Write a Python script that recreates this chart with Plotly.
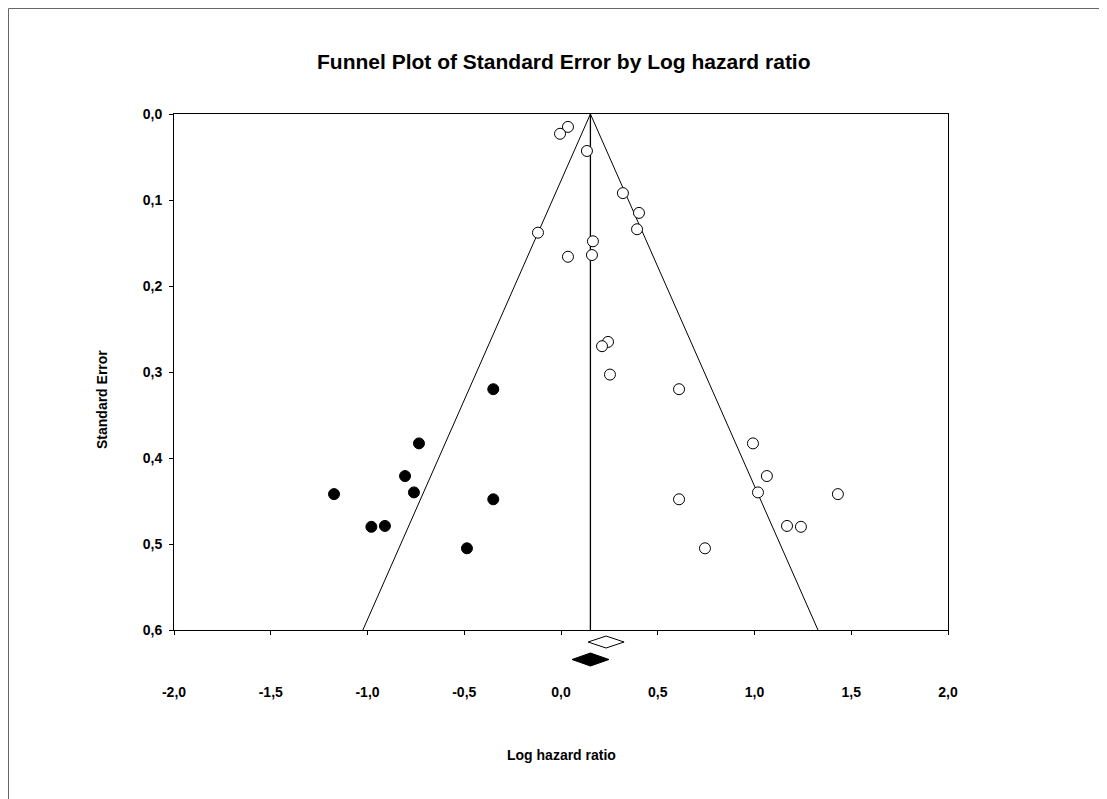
import plotly.graph_objects as go

# Observed studies (open circles): log hazard ratio and standard error
obs_lhr = [0.036, -0.005, 0.134, 0.320, 0.403, 0.393, -0.119, 0.165, 0.160, 0.036,
           0.243, 0.212, 0.253, 0.610, 0.992, 1.064, 1.018, 1.431, 0.610, 1.168,
           1.240, 0.744]
obs_se = [0.015, 0.023, 0.043, 0.092, 0.115, 0.134, 0.138, 0.148, 0.164, 0.166,
          0.265, 0.270, 0.303, 0.320, 0.383, 0.421, 0.440, 0.442, 0.448, 0.479,
          0.480, 0.505]

# Imputed studies (filled circles)
imp_lhr = [-0.350, -0.734, -0.806, -0.760, -1.173, -0.350, -0.980, -0.910, -0.486]
imp_se = [0.320, 0.383, 0.421, 0.440, 0.442, 0.448, 0.480, 0.479, 0.505]

# Pooled estimates [lower, point, upper]
observed_pooled = [0.140, 0.233, 0.326]
adjusted_pooled = [0.057, 0.152, 0.248]

x_tickvals = [-2.0, -1.5, -1.0, -0.5, 0.0, 0.5, 1.0, 1.5, 2.0]
x_ticktext = ["-2,0", "-1,5", "-1,0", "-0,5", "0,0", "0,5", "1,0", "1,5", "2,0"]
y_tickvals = [0.0, 0.1, 0.2, 0.3, 0.4, 0.5, 0.6]
y_ticktext = ["0,0", "0,1", "0,2", "0,3", "0,4", "0,5", "0,6"]

se_max = 0.6
z = 1.96
center = adjusted_pooled[1]

FONT = "Liberation Sans, Arial, sans-serif"

fig = go.Figure()

# Funnel lines
fig.add_trace(go.Scatter(
    x=[center - z * se_max, center, center + z * se_max],
    y=[se_max, 0.0, se_max],
    mode="lines", line=dict(color="black", width=1), hoverinfo="skip", showlegend=False))
# Vertical line at pooled estimate
fig.add_trace(go.Scatter(
    x=[center, center], y=[0.0, se_max],
    mode="lines", line=dict(color="black", width=1.3), hoverinfo="skip", showlegend=False))

# Observed studies
fig.add_trace(go.Scatter(
    x=obs_lhr, y=obs_se, mode="markers",
    marker=dict(size=11, color="white", line=dict(color="black", width=1)),
    showlegend=False))
# Imputed studies
fig.add_trace(go.Scatter(
    x=imp_lhr, y=imp_se, mode="markers",
    marker=dict(size=11, color="black", line=dict(color="black", width=1)),
    showlegend=False))


def diamond(vals, yc, half_h, fill):
    lo, mid, hi = vals
    path = (f"M {lo} {yc} L {mid} {yc + half_h} L {hi} {yc} L {mid} {yc - half_h} Z")
    return dict(type="path", xref="x", yref="paper", path=path,
                line=dict(color="black", width=1), fillcolor=fill, layer="above")


shapes = [
    diamond(observed_pooled, -0.0233, 0.0116, "white"),
    diamond(adjusted_pooled, -0.0572, 0.0126, "black"),
    # outer border (top and left visible)
    dict(type="rect", xref="paper", yref="paper",
         x0=(8.5 - 174) / 774, x1=(1140 - 174) / 774,
         y0=(630 - 830) / 516, y1=(630 - 8.5) / 516,
         line=dict(color="#666666", width=1), fillcolor="rgba(0,0,0,0)", layer="below"),
]

annotations = [
    dict(text="<b>Funnel Plot of Standard Error by Log hazard ratio</b>",
         xref="paper", yref="paper", x=(564 - 174) / 774, y=(630 - 61) / 516,
         xanchor="center", yanchor="middle", showarrow=False,
         font=dict(family=FONT, size=21, color="black")),
    dict(text="<b>Log hazard ratio</b>",
         xref="paper", yref="paper", x=(561 - 174) / 774, y=(630 - 755) / 516,
         xanchor="center", yanchor="middle", showarrow=False,
         font=dict(family=FONT, size=14, color="black")),
    dict(text="<b>Standard Error</b>", textangle=-90,
         xref="paper", yref="paper", x=(102 - 174) / 774, y=(630 - 400) / 516,
         xanchor="center", yanchor="middle", showarrow=False,
         font=dict(family=FONT, size=14, color="black")),
]

fig.update_layout(
    width=1099, height=791,
    margin=dict(l=166, r=159, t=106, b=169, pad=0),
    paper_bgcolor="white", plot_bgcolor="white",
    font=dict(family=FONT, color="black"),
    shapes=shapes, annotations=annotations,
    xaxis=dict(range=[-2.0, 2.0], tickvals=x_tickvals, ticktext=x_ticktext,
               showgrid=False, zeroline=False, showline=True, mirror=True,
               linecolor="black", linewidth=1, ticks="outside", ticklen=4,
               tickcolor="black", tickwidth=1, ticklabelstandoff=45,
               tickfont=dict(family=FONT, size=14, color="black", weight="bold")),
    yaxis=dict(range=[0.6, 0.0], tickvals=y_tickvals, ticktext=y_ticktext,
               showgrid=False, zeroline=False, showline=True, mirror=True,
               linecolor="black", linewidth=1, ticks="outside", ticklen=4,
               tickcolor="black", tickwidth=1, ticklabelstandoff=4,
               tickfont=dict(family=FONT, size=14, color="black", weight="bold")),
)

fig.write_html("out.html")
